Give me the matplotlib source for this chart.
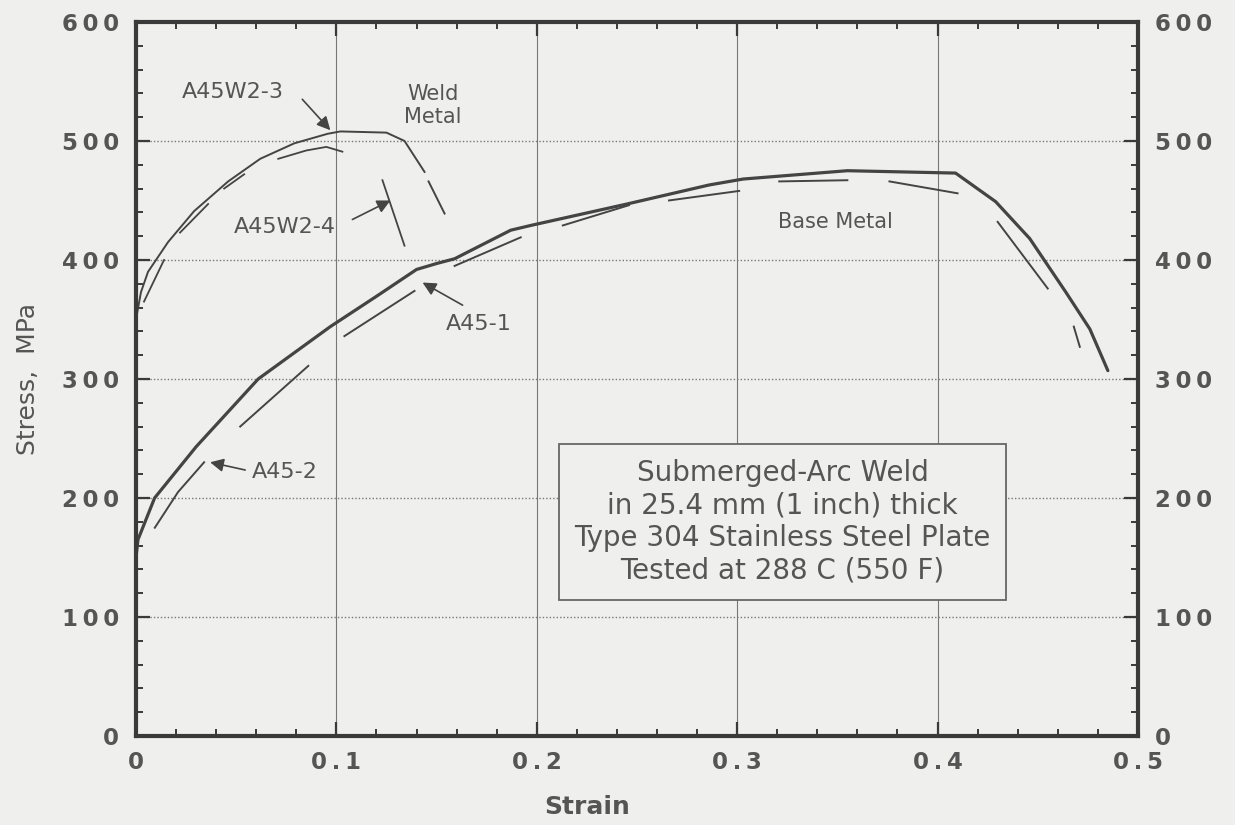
import numpy as np
import matplotlib
matplotlib.use("Agg")
import matplotlib.pyplot as plt
from matplotlib.ticker import MultipleLocator, FuncFormatter

nan = np.nan

# A45-1, base metal (solid)
strain_a45_1 = [0.0, 0.001, 0.0093, 0.03, 0.061, 0.097, 0.1205, 0.140, 0.150, 0.159,
                0.187, 0.197, 0.245, 0.286, 0.303, 0.355, 0.409, 0.429, 0.446, 0.464,
                0.476, 0.485]
stress_a45_1 = [150, 165, 200, 243, 300, 344, 370, 392, 397, 401,
                425, 429, 447, 463, 468, 475, 473, 449, 418, 373,
                342, 307]

# A45-2, base metal (dashed, broken at the gaps)
strain_a45_2 = [0.0094, 0.021, 0.034, nan, 0.052, 0.086, nan, 0.104, 0.139, nan,
                0.159, 0.192, nan, 0.213, 0.246, nan, 0.266, 0.301, nan, 0.321,
                0.355, nan, 0.376, 0.410, nan, 0.430, 0.455, nan, 0.468, 0.471]
stress_a45_2 = [175, 205, 230, nan, 260, 311, nan, 336, 374, nan,
                395, 419, nan, 429, 446, nan, 450, 458, nan, 466,
                467, nan, 466, 456, nan, 432, 376, nan, 344, 327]

# A45W2-3, weld metal
strain_w2_3 = [0.0, 0.0025, 0.006, 0.016, 0.029, 0.046, 0.062, 0.079, 0.0956, 0.102,
               0.125, 0.134, 0.144, nan, 0.146, 0.154]
stress_w2_3 = [350, 373, 390, 415, 441, 466, 485, 498, 506, 508,
               507, 500, 474, nan, 466, 439]

# A45W2-4, weld metal (dashed)
strain_w2_4 = [0.004, 0.014, nan, 0.022, 0.036, nan, 0.044, 0.054, nan,
               0.071, 0.085, 0.095, 0.103, nan, 0.123, 0.134]
stress_w2_4 = [365, 400, nan, 423, 447, nan, 460, 472, nan,
               485, 492, 495, 491, nan, 467, 412]

bg = "#efefed"
ink = "#444444"
txt = "#555555"

fig = plt.figure(figsize=(12.35, 8.25), dpi=100, facecolor=bg)
ax = fig.add_axes([0.1101, 0.1079, 0.8113, 0.8655], facecolor=bg)

ax.plot(strain_a45_1, stress_a45_1, color=ink, lw=2.3, solid_capstyle="round")
ax.plot(strain_a45_2, stress_a45_2, color=ink, lw=1.4)
ax.plot(strain_w2_3, stress_w2_3, color=ink, lw=1.4)
ax.plot(strain_w2_4, stress_w2_4, color=ink, lw=1.3)

ax.set_xlim(0, 0.5)
ax.set_ylim(0, 600)

ax.xaxis.set_major_locator(MultipleLocator(0.1))
ax.xaxis.set_minor_locator(MultipleLocator(0.02))
ax.yaxis.set_major_locator(MultipleLocator(100))
ax.yaxis.set_minor_locator(MultipleLocator(20))

# spaced-out tick digits
def spaced(v, pos):
    s = "0" if abs(v) < 1e-9 else (f"{v:.1f}" if v < 1 else f"{v:.0f}")
    return "\u2009".join(s)

ax.xaxis.set_major_formatter(FuncFormatter(spaced))
ax.yaxis.set_major_formatter(FuncFormatter(spaced))

ax.tick_params(which="both", direction="in", top=True, right=True, color="#3a3a3a")
ax.tick_params(which="major", length=10, width=1.6, labelsize=16.5, labelcolor=txt,
               labelright=True)
ax.tick_params(which="minor", length=5, width=1.4)
ax.tick_params(axis="y", which="major", pad=12)
ax.tick_params(axis="x", which="major", pad=11)
for t in ax.xaxis.get_major_ticks() + ax.yaxis.get_major_ticks():
    t.label1.set_fontweight("bold")
    t.label2.set_fontweight("bold")

for sp in ax.spines.values():
    sp.set_linewidth(3)
    sp.set_color("#3a3a3a")

ax.grid(axis="y", which="major", color="#777777", lw=1.0, linestyle=(0, (1, 1.5)))
ax.grid(axis="x", which="major", color="#777777", lw=0.8, linestyle="-")
ax.set_axisbelow(True)

ax.set_xlabel("Strain", fontsize=18, fontweight="bold", color=txt)
ax.xaxis.set_label_coords(0.45, -0.083)
ax.set_ylabel("Stress,  MPa", fontsize=18, color=txt)
ax.yaxis.set_label_coords(-0.096, 0.5)

arrow = dict(arrowstyle="-|>", color=ink, lw=1.2, mutation_scale=20, shrinkA=0, shrinkB=0)

ax.text(0.0485, 541, "A45W2-3", fontsize=16, color=txt, ha="center", va="center")
ax.annotate("", xy=(0.097, 509), xytext=(0.083, 535), arrowprops=arrow)
ax.text(0.148, 530, "Weld\nMetal", fontsize=15, color=txt, ha="center", va="center",
        linespacing=1.2)

ax.annotate("", xy=(0.127, 450), xytext=(0.108, 434), arrowprops=arrow)
ax.text(0.0744, 428, "A45W2-4", fontsize=16, color=txt, ha="center", va="center")

ax.annotate("", xy=(0.143, 381), xytext=(0.163, 362), arrowprops=arrow)
ax.text(0.171, 346, "A45-1", fontsize=16, color=txt, ha="center", va="center")

ax.annotate("", xy=(0.037, 230), xytext=(0.0545, 223.5), arrowprops=arrow)
ax.text(0.058, 222, "A45-2", fontsize=16, color=txt, ha="left", va="center")

ax.text(0.349, 432, "Base Metal", fontsize=15, color=txt, ha="center", va="center")

ax.text(0.3227, 180,
        "Submerged-Arc Weld\nin 25.4 mm (1 inch) thick\nType 304 Stainless Steel Plate\nTested at 288 C (550 F)",
        fontsize=20, color=txt, ha="center", va="center", linespacing=1.2,
        bbox=dict(boxstyle="square,pad=0.55", facecolor=bg, edgecolor="#666666", lw=1.3))

fig.savefig("out.png", dpi=100, facecolor=bg)
